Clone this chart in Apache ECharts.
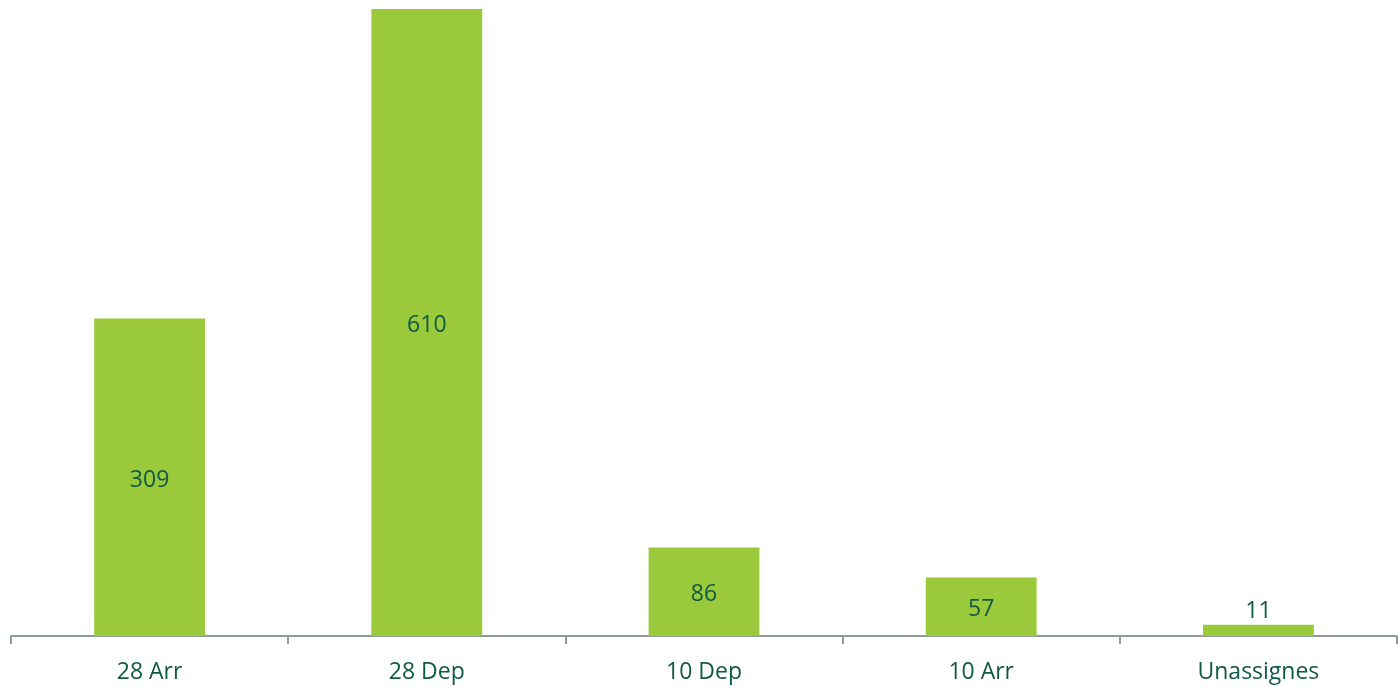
<!DOCTYPE html>
<html>
<head>
<meta charset="utf-8">
<script src="https://cdn.jsdelivr.net/npm/echarts@6/dist/echarts.min.js"></script>
<style>html,body{margin:0;padding:0;background:#fff;}#c{width:1398px;height:687px;}</style>
</head>
<body>
<div id="c"></div>
<script>
const categories = ['28 Arr', '28 Dep', '10 Dep', '10 Arr', 'Unassignes'];
const values = [309, 610, 86, 57, 11];
const labelPositions = ['inside', 'inside', 'inside', 'inside', 'top'];

const chart = echarts.init(document.getElementById('c'));
chart.setOption({
  animation: false,
  grid: { left: 11, right: 1, top: 9, bottom: 51, containLabel: false },
  xAxis: {
    type: 'category',
    data: categories,
    axisLine: { lineStyle: { color: '#8E9A97', width: 2 } },
    axisTick: { show: true, length: 8, lineStyle: { color: '#8E9A97', width: 2 } },
    axisLabel: { color: '#0F5A45', fontSize: 23, fontFamily: 'Open Sans, Liberation Sans, sans-serif', margin: 25 }
  },
  yAxis: { type: 'value', min: 0, max: 610, show: false, splitLine: { show: false } },
  series: [{
    type: 'bar',
    barWidth: '40%',
    itemStyle: { color: '#9ACA3C' },
    data: values.map((v, i) => ({
      value: v,
      label: { show: true, position: labelPositions[i], distance: 2, offset: labelPositions[i] === 'inside' ? [0, 3] : [0, 0] }
    })),
    label: { color: '#0F5A45', fontSize: 23, fontFamily: 'Open Sans, Liberation Sans, sans-serif' }
  }]
});
</script>
</body>
</html>
